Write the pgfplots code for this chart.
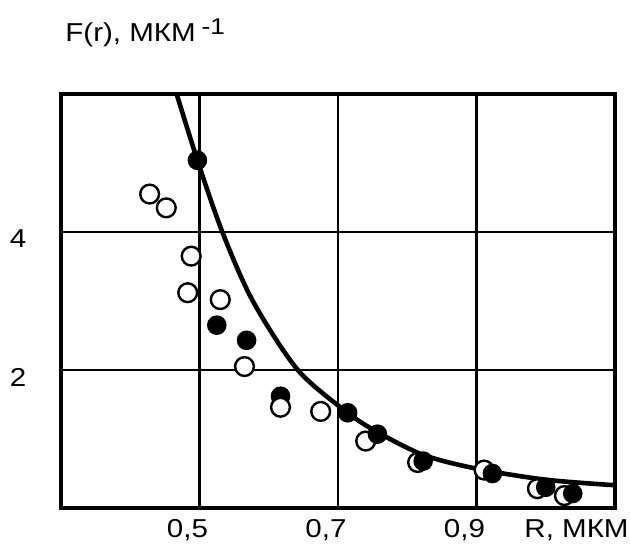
\documentclass[border=0pt]{standalone}
\usepackage{fontspec}
\setmainfont{Liberation Sans}[FakeStretch=1.14]
\usepackage{pgfplots}
\pgfplotsset{compat=1.18}
\begin{document}
\begin{tikzpicture}[font=\fontsize{13}{15}\selectfont]
\begin{axis}[
  at={(0,0)}, anchor=south west,
  scale only axis, width=277bp, height=254bp-47bp,
  xmin=0.3, xmax=1.1, ymin=0, ymax=6,
  xtick={0.5,0.7,0.9}, xticklabels={{0,5},{0,7},{0,9}},
  ytick={2,4}, yticklabels={2,4},
  grid=major,
  major grid style={black, line width=1.4bp},
  axis line style={black, line width=1.8bp},
  major tick length=0pt,
  /pgf/number format/assume math mode=true,
  tick label style={font=\fontsize{13}{15}\selectfont},
  xticklabel style={anchor=base, inner sep=0pt, yshift=-14.5bp, xshift=-6bp},
  yticklabel style={anchor=center, inner sep=0pt, xshift=-21.5bp, yshift=-3.5bp},
  clip=true,
]
% open circles
\addplot[only marks, mark=*, mark size=4.7bp, mark options={fill=white, draw=black, line width=1.2bp}]
coordinates {
(0.428,4.55) (0.452,4.35) (0.488,3.65) (0.483,3.12) (0.530,3.02)
(0.565,2.05) (0.675,1.40) (0.740,0.97) (0.815,0.66) (0.911,0.55)
(0.988,0.28) (1.027,0.18)
};
% filled circles
\addplot[only marks, mark=*, mark size=4.6bp, mark options={fill=black, draw=black, line width=0.6bp}]
coordinates {
(0.497,5.04) (0.525,2.65) (0.568,2.43) (0.617,1.62) (0.714,1.38)
(0.757,1.07) (0.823,0.68) (0.923,0.50) (1.000,0.30) (1.039,0.21)
};
% open circle drawn over the filled one
\addplot[only marks, mark=*, mark size=4.7bp, mark options={fill=white, draw=black, line width=1.2bp}]
coordinates {(0.617,1.46)};
% fitted curve
\addplot[black, line width=2.3bp, smooth, tension=0.5]
coordinates {
(0.467,6.0) (0.497,5.04) (0.533,4.0) (0.577,3.0) (0.642,2.0)
(0.714,1.38) (0.757,1.1) (0.823,0.77) (0.9,0.57) (1.0,0.41) (1.1,0.33)
};
\end{axis}
\node[anchor=base west, inner sep=0pt] at (2bp,233bp) {F(r), МКМ\hspace{3bp}\raisebox{3.5bp}{\fontsize{11.5}{12}\selectfont -1}};
\node[anchor=base east, inner sep=0pt] at (284bp,-14.5bp) {R, МКМ};
\pgfresetboundingbox
\path (-30.5bp,-22.5bp) rectangle (284.5bp,254bp);
\end{tikzpicture}
\end{document}
